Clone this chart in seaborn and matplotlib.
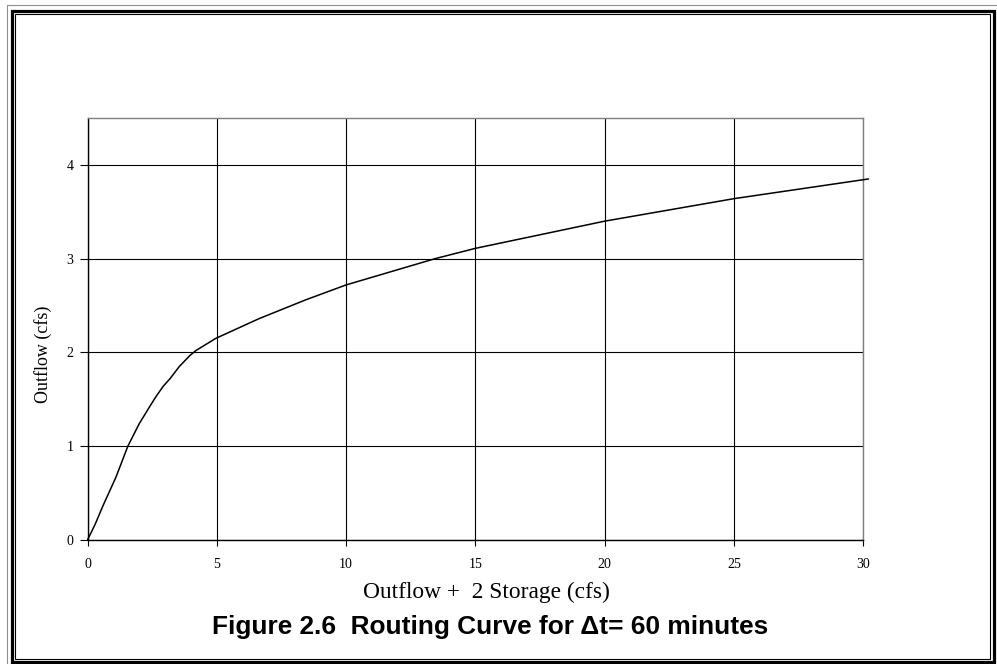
import matplotlib
matplotlib.use("Agg")
import matplotlib.pyplot as plt
import seaborn as sns
import pandas as pd
from matplotlib.lines import Line2D
from matplotlib.patches import Rectangle

# Data
x_vals = [0, 0.3, 0.59, 1.1, 1.56, 2.0, 2.4, 2.65, 2.93, 3.19, 3.55, 3.97, 4.19, 4.96, 6.63, 8.43, 10, 13.44, 15, 20, 25, 30.2]
y_vals = [0, 0.17, 0.36, 0.67, 1.0, 1.24, 1.42, 1.53, 1.64, 1.72, 1.85, 1.97, 2.02, 2.15, 2.36, 2.56, 2.72, 3.0, 3.11, 3.40, 3.64, 3.85]
x_ticks = [0, 5, 10, 15, 20, 25, 30]
y_ticks = [0, 1, 2, 3, 4]
x_label = "Outflow +  2 Storage (cfs)"
y_label = "Outflow (cfs)"
title = "Figure 2.6  Routing Curve for \u0394t= 60 minutes"

sns.set_style("white")
plt.rcParams['font.family'] = ['Liberation Serif', 'DejaVu Serif']
plt.rcParams['text.color'] = 'black'
plt.rcParams['xtick.color'] = 'black'
plt.rcParams['ytick.color'] = 'black'

W, H = 997, 664
fig = plt.figure(figsize=(W / 100, H / 100), dpi=100)
left, right, bottom, top = 87.5, 863.3, 540, 118
ax = fig.add_axes([left / W, 1 - bottom / H, (right - left) / W, (bottom - top) / H])

df = pd.DataFrame({"x": x_vals, "y": y_vals})
sns.lineplot(data=df, x="x", y="y", ax=ax, color="black", linewidth=1.1,
             sort=False, estimator=None, clip_on=False, zorder=5)

ax.set_xlim(0, 30)
ax.set_ylim(0, 4.5)
ax.set_xticks(x_ticks)
ax.set_yticks(y_ticks)
ax.set_xticklabels([str(t) for t in x_ticks], fontsize=10, color="black")
ax.set_yticklabels([str(t) for t in y_ticks], fontsize=10, color="black")
ax.set_xlabel("")
ax.set_ylabel("")
ax.grid(True, color="black", linewidth=0.8)
ax.set_axisbelow(True)
ax.tick_params(axis="x", direction="out", length=4, width=0.8, color="black", pad=9, bottom=True)
ax.tick_params(axis="y", direction="out", length=6, width=0.8, color="black", pad=4, left=True)

for s in ["top", "right"]:
    ax.spines[s].set_color("#808080")
    ax.spines[s].set_linewidth(1.0)
for s in ["left", "bottom"]:
    ax.spines[s].set_color("black")
    ax.spines[s].set_linewidth(1.0)

fig.text(486 / W, 1 - 592 / H, x_label, ha="center", va="center", fontsize=16.8, color="black",
         family=['Liberation Serif', 'DejaVu Serif'])
fig.text(43 / W, 1 - 354 / H, y_label, ha="center", va="center", rotation=90, fontsize=13, color="black",
         family=['Liberation Serif', 'DejaVu Serif'])
fig.text(490 / W, 1 - 627 / H, title, ha="center", va="center", fontsize=18.9, fontweight="bold",
         color="black", family=['Liberation Sans', 'DejaVu Sans'])

# Frame (double border)
def px_rect(x0, y0, x1, y1, lw, color):
    fig.patches.append(Rectangle((x0 / W, 1 - y1 / H), (x1 - x0) / W, (y1 - y0) / H,
                                 transform=fig.transFigure, fill=False, linewidth=lw,
                                 edgecolor=color, zorder=10))

px_rect(11.5, 10.5, 993.5, 662, 2.3, "black")
px_rect(14.5, 13.5, 990, 659, 0.8, "black")
fig.lines.append(Line2D([6.5 / W, 6.5 / W], [1 - 4.5 / H, 1 - 664 / H], transform=fig.transFigure,
                        color="#909090", linewidth=0.8))
fig.lines.append(Line2D([6.5 / W, 997 / W], [1 - 4.5 / H, 1 - 4.5 / H], transform=fig.transFigure,
                        color="#909090", linewidth=0.8))

fig.savefig("out.png", dpi=100, facecolor="white")
